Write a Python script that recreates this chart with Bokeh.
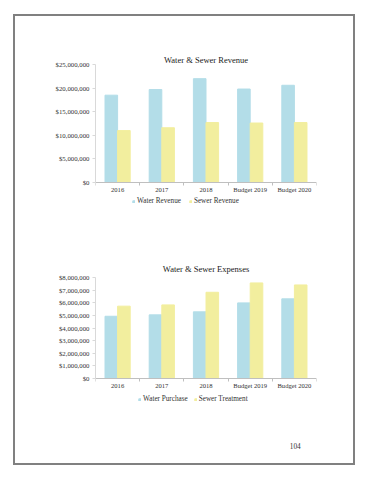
from bokeh.plotting import figure
from bokeh.models import (Range1d, FixedTicker, NumeralTickFormatter, Legend, LegendItem,
                          ColumnDataSource, Label, LinearAxis)
from bokeh.transform import dodge
from bokeh.layouts import column
from bokeh.embed import file_html
from bokeh.resources import INLINE

# ---- data ----
years = ["2016", "2017", "2018", "Budget 2019", "Budget 2020"]

rev_title = "Water & Sewer Revenue"
water_revenue = [18500000, 19700000, 22000000, 19800000, 20600000]
sewer_revenue = [11000000, 11600000, 12700000, 12600000, 12700000]
rev_ticks = [0, 5000000, 10000000, 15000000, 20000000, 25000000]

exp_title = "Water & Sewer Expenses"
water_purchase = [4930000, 5040000, 5280000, 5990000, 6310000]
sewer_treatment = [5730000, 5830000, 6830000, 7570000, 7410000]
exp_ticks = [0, 1000000, 2000000, 3000000, 4000000, 5000000, 6000000, 7000000, 8000000]

page_number = "104"

WATER = "#b3dde8"
SEWER = "#f2ee9e"
FONT = "Liberation Serif"
TXT = "#333333"


def make_chart(title, cats, s1, s2, n1, n2, ticks, height, left, right, top,
               plot_px, below_px, title_standoff, legend_pos, legend_spacing):
    n = len(cats)
    top_val = ticks[-1]
    start = -top_val * below_px / plot_px          # room below $0 for labels + legend
    bottom = height - top - plot_px - below_px
    src = ColumnDataSource(dict(x=[i + 0.5 for i in range(n)], a=s1, b=s2))
    p = figure(width=338, height=height, output_backend="svg", toolbar_location=None,
               x_range=Range1d(0, n), y_range=Range1d(start, top_val),
               min_border_left=left, min_border_right=right,
               min_border_top=top, min_border_bottom=bottom,
               x_axis_location=None, y_axis_location=None)
    p.outline_line_color = None
    p.grid.visible = False
    p.background_fill_color = "white"
    p.border_fill_color = "white"
    p.title.text = title
    p.title.align = "center"
    p.title.text_font = FONT
    p.title.text_font_size = "8.5px"
    p.title.text_font_style = "normal"
    p.title.text_color = "#222222"
    p.title.standoff = title_standoff

    w = 0.285
    r1 = p.vbar(x=dodge("x", -w / 2), top="a", width=w, source=src, color=WATER)
    r2 = p.vbar(x=dodge("x", w / 2), top="b", width=w, source=src, color=SEWER)

    xa = LinearAxis(ticker=FixedTicker(ticks=[i + 0.5 for i in range(n)],
                                       minor_ticks=list(range(n + 1))),
                    fixed_location=0)
    xa.major_label_overrides = {i + 0.5: c for i, c in enumerate(cats)}
    xa.major_tick_out = 0
    xa.major_tick_in = 0
    xa.minor_tick_out = 3
    xa.minor_tick_in = 0
    xa.minor_tick_line_color = "#bfbfbf"
    xa.axis_line_color = "#bfbfbf"
    xa.major_label_text_font = FONT
    xa.major_label_text_font_size = "6.6px"
    xa.major_label_text_color = TXT
    xa.major_label_standoff = 0
    p.add_layout(xa, "below")

    ya = LinearAxis(ticker=FixedTicker(ticks=ticks), bounds=(0, top_val))
    ya.formatter = NumeralTickFormatter(format="$0,0")
    ya.axis_line_color = "#d9d9d9"
    ya.major_tick_out = 3
    ya.major_tick_in = 0
    ya.major_tick_line_color = "#d9d9d9"
    ya.minor_tick_line_color = None
    ya.major_label_text_font = FONT
    ya.major_label_text_font_size = "6.8px"
    ya.major_label_text_color = TXT
    ya.major_label_standoff = 3
    p.add_layout(ya, "left")

    leg = Legend(items=[LegendItem(label=n1, renderers=[r1]),
                        LegendItem(label=n2, renderers=[r2])],
                 orientation="horizontal", location=legend_pos,
                 glyph_width=3, glyph_height=3, label_standoff=2,
                 spacing=legend_spacing,
                 label_text_font=FONT, label_text_font_size="7.2px",
                 label_text_color=TXT, label_height=8,
                 border_line_color=None, background_fill_alpha=0,
                 padding=0, margin=0)
    p.add_layout(leg)
    return p


p1 = make_chart(rev_title, years, water_revenue, sewer_revenue,
                "Water Revenue", "Sewer Revenue", rev_ticks,
                200, 80, 37, 48, 118, 28, 0, (37, 5), 8)
p2 = make_chart(exp_title, years, water_purchase, sewer_treatment,
                "Water Purchase", "Sewer Treatment", exp_ticks,
                194, 78, 35, 61, 101, 30, 8, (43, 5), 6)

p3 = figure(width=338, height=53, output_backend="svg", toolbar_location=None,
            x_range=Range1d(0, 338), y_range=Range1d(0, 53),
            min_border=0, x_axis_location=None, y_axis_location=None)
p3.outline_line_color = None
p3.grid.visible = False
p3.border_fill_color = "white"
p3.add_layout(Label(x=305.5, y=18, text=page_number, text_align="center",
                    text_baseline="middle", text_font=FONT, text_font_size="7.3px",
                    text_color=TXT))

page = column(p1, p2, p3, spacing=0, margin=(14, 0, 0, 13),
              styles={"border": "2px solid #808080", "background-color": "white"})

open("out.html", "w").write(file_html(page, INLINE))
